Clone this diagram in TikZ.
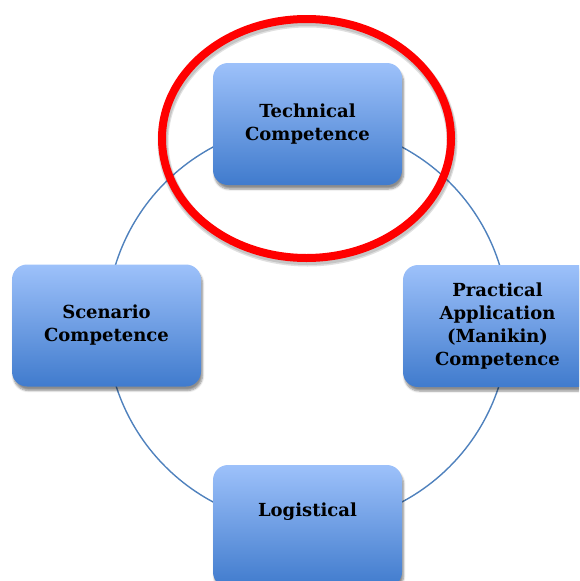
\documentclass[tikz,border=0pt]{standalone}
\usepackage{fontspec}
\setmainfont{DejaVu Serif}
\usetikzlibrary{shadows.blur}
\definecolor{boxtop}{RGB}{157,193,250}
\definecolor{boxbot}{RGB}{64,123,205}
\definecolor{ringcol}{RGB}{79,129,189}
\tikzset{
  compbox/.style={rounded corners=15pt, minimum width=189pt, minimum height=122pt,
    top color=boxtop, bottom color=boxbot, draw=none,
    blur shadow={shadow xshift=1.5pt, shadow yshift=-4pt, shadow blur steps=6, shadow opacity=45},
    font=\fontsize{18}{23}\selectfont\bfseries, align=center, inner sep=0pt},
  lbl/.style={font=\fontsize{18}{23}\selectfont\bfseries, align=center, inner sep=0pt},
  ring/.style={draw=ringcol, line width=1.4pt},
  mark ring/.style={draw=red, line width=8pt},
  mark shade/.style={draw=black, line width=11pt, draw opacity=0.12}
}
\begin{document}
\begin{tikzpicture}[x=1pt,y=-1pt]
\useasboundingbox (0,0) rectangle (579,581);
\begin{scope}
\clip (0,0) rectangle (579,581);
\coordinate (ctr) at (307.5,324.5);
\draw[ring] (ctr) circle [radius=201];
\node[compbox] (tech) at (307.5,124) {Technical\\Competence};
\node[compbox] (prac) at (497.5,326) {Practical\\Application\\(Manikin)\\Competence};
\node[compbox] (scen) at (106.5,325.5) {Scenario\\Competence};
\node[compbox] (logi) at (307.5,526) {};
\node[lbl] (logt) at (307.5,512) {Logistical};
\path[mark shade] (307.5,141.5) ellipse [x radius=144.5, y radius=119.5];
\path[mark shade, line width=9pt] (307.5,141) ellipse [x radius=144.5, y radius=119.5];
\path[mark ring] (306.5,138.5) ellipse [x radius=144.5, y radius=119.5];
\end{scope}
\end{tikzpicture}
\end{document}
